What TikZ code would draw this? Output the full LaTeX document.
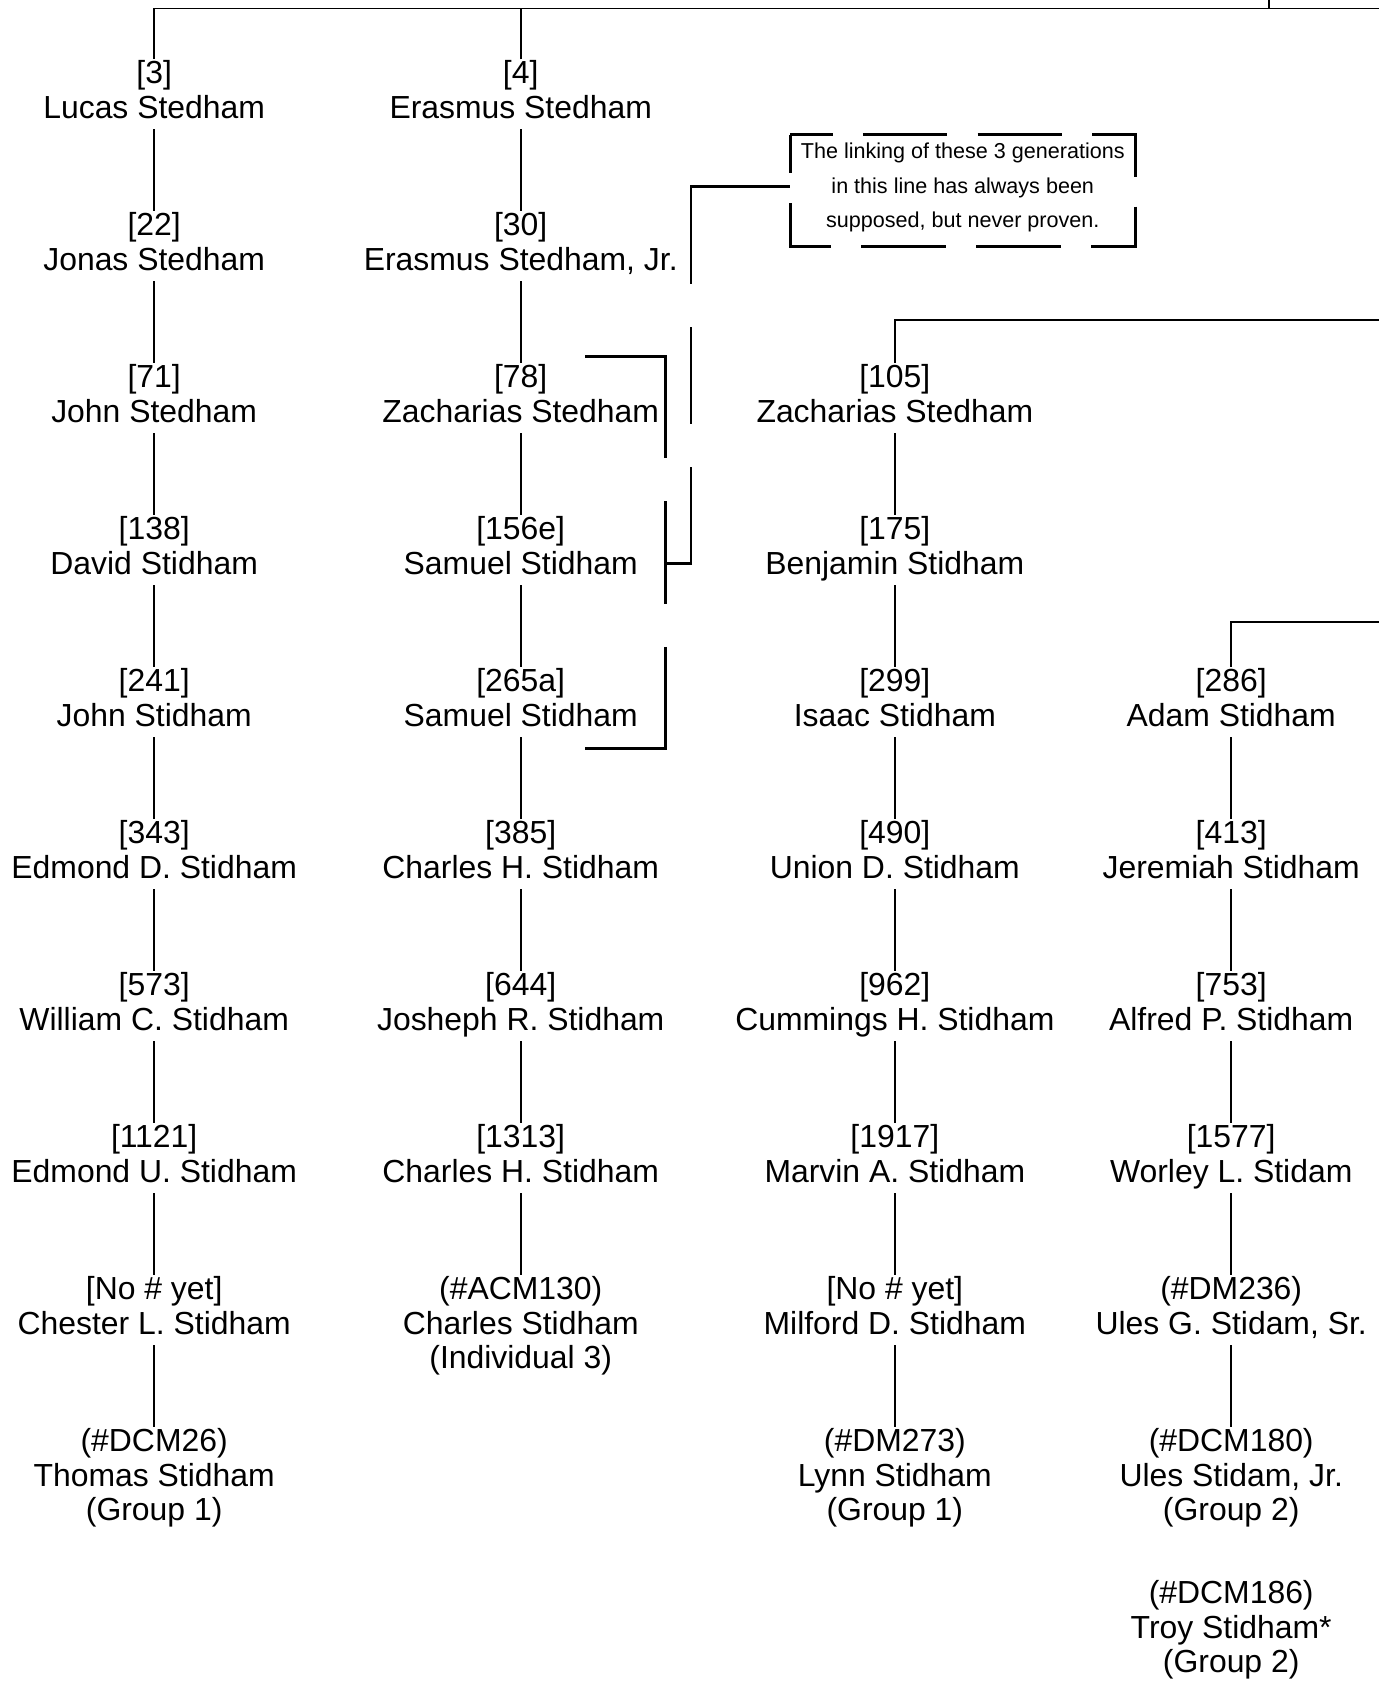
\documentclass[tikz,border=0pt]{standalone}
\usepackage{fontspec}
\setmainfont{Liberation Sans}
\begin{document}
\begin{tikzpicture}[x=0.5393pt,y=-0.5393pt,
  person/.style={anchor=north, align=center, inner sep=0pt, font=\fontsize{15.96pt}{17.26pt}\selectfont},
  notebox/.style={align=center, inner sep=0pt, minimum width=172.6pt, font=\fontsize{10.79pt}{17.26pt}\selectfont},
  tree/.style={line width=0.86pt},
  frame/.style={line width=1.5pt, dash pattern=on 42.33pt off 15.1pt, dash phase=21.14pt},
  brk/.style={line width=1.4pt}
]
\useasboundingbox (0,0) rectangle (1279,1568.5);

% column 1
\node[person] (a0) at (143,55)   {\strut[3]\\Lucas Stedham\strut};
\node[person] (a1) at (143,196)  {\strut[22]\\Jonas Stedham\strut};
\node[person] (a2) at (143,337)  {\strut[71]\\John Stedham\strut};
\node[person] (a3) at (143,478)  {\strut[138]\\David Stidham\strut};
\node[person] (a4) at (143,619)  {\strut[241]\\John Stidham\strut};
\node[person] (a5) at (143,760)  {\strut[343]\\Edmond D. Stidham\strut};
\node[person] (a6) at (143,901)  {\strut[573]\\William C. Stidham\strut};
\node[person] (a7) at (143,1042) {\strut[1121]\\Edmond U. Stidham\strut};
\node[person] (a8) at (143,1183) {\strut[No \# yet]\\Chester L. Stidham\strut};
\node[person] (a9) at (143,1324) {\strut(\#DCM26)\\Thomas Stidham\\(Group 1)\strut};

% column 2
\node[person] (b0) at (483,55)   {\strut[4]\\Erasmus Stedham\strut};
\node[person] (b1) at (483,196)  {\strut[30]\\Erasmus Stedham, Jr.\strut};
\node[person] (b2) at (483,337)  {\strut[78]\\Zacharias Stedham\strut};
\node[person] (b3) at (483,478)  {\strut[156e]\\Samuel Stidham\strut};
\node[person] (b4) at (483,619)  {\strut[265a]\\Samuel Stidham\strut};
\node[person] (b5) at (483,760)  {\strut[385]\\Charles H. Stidham\strut};
\node[person] (b6) at (483,901)  {\strut[644]\\Josheph R. Stidham\strut};
\node[person] (b7) at (483,1042) {\strut[1313]\\Charles H. Stidham\strut};
\node[person] (b8) at (483,1183) {\strut(\#ACM130)\\Charles Stidham\\(Individual 3)\strut};

% column 3
\node[person] (c2) at (830,337)  {\strut[105]\\Zacharias Stedham\strut};
\node[person] (c3) at (830,478)  {\strut[175]\\Benjamin Stidham\strut};
\node[person] (c4) at (830,619)  {\strut[299]\\Isaac Stidham\strut};
\node[person] (c5) at (830,760)  {\strut[490]\\Union D. Stidham\strut};
\node[person] (c6) at (830,901)  {\strut[962]\\Cummings H. Stidham\strut};
\node[person] (c7) at (830,1042) {\strut[1917]\\Marvin A. Stidham\strut};
\node[person] (c8) at (830,1183) {\strut[No \# yet]\\Milford D. Stidham\strut};
\node[person] (c9) at (830,1324) {\strut(\#DM273)\\Lynn Stidham\\(Group 1)\strut};

% column 4
\node[person] (d4) at (1142,619)  {\strut[286]\\Adam Stidham\strut};
\node[person] (d5) at (1142,760)  {\strut[413]\\Jeremiah Stidham\strut};
\node[person] (d6) at (1142,901)  {\strut[753]\\Alfred P. Stidham\strut};
\node[person] (d7) at (1142,1042) {\strut[1577]\\Worley L. Stidam\strut};
\node[person] (d8) at (1142,1183) {\strut(\#DM236)\\Ules G. Stidam, Sr.\strut};
\node[person] (d9) at (1142,1324) {\strut(\#DCM180)\\Ules Stidam, Jr.\\(Group 2)\strut};
\node[person] (d10) at (1142,1465) {\strut(\#DCM186)\\Troy Stidham*\\(Group 2)\strut};

% top lines
\coordinate (topR) at (1279,8);
\coordinate (topJ) at (1177,8);
\coordinate (topU) at (1177,0);
\draw[tree] (topR) -| (a0.north);
\draw[tree] (topJ) -- (topU);
\draw[tree] (b0.north) -- (b0.north |- topR);
\coordinate (r3) at (1279,297);
\draw[tree] (r3) -| (c2.north);
\coordinate (r4) at (1279,577);
\draw[tree] (r4) -| (d4.north);

% vertical connectors
\foreach \p/\q in {a0/a1,a1/a2,a2/a3,a3/a4,a4/a5,a5/a6,a6/a7,a7/a8,a8/a9,
                   b0/b1,b1/b2,b2/b3,b3/b4,b4/b5,b5/b6,b6/b7,b7/b8,
                   c2/c3,c3/c4,c4/c5,c5/c6,c6/c7,c7/c8,c8/c9,
                   d4/d5,d5/d6,d6/d7,d7/d8,d8/d9}
  \draw[tree] (\p.south) -- (\q.north);

% note
\node[notebox] (note) at (893,173) {\strut The linking of these 3 generations\\in this line has always been\\supposed, but never proven.\strut};
\draw[frame] (733,125) -- (1053,125) -- (1053,229) -- (733,229) -- cycle;

% brackets
\coordinate (k1) at (543,331);
\coordinate (k2) at (617,331);
\coordinate (k3) at (617,694);
\coordinate (k4) at (543,694);
\draw[brk, dash pattern=on 90.6pt off 21.57pt on 51.23pt off 21.57pt on 107.9pt] (k1) -- (k2) -- (k3) -- (k4);
\coordinate (m1) at (641,173);
\coordinate (m2) at (641,523);
\coordinate (m3) at (617,523);
\draw[brk, dash pattern=on 98.15pt off 21.57pt on 48.54pt off 21.57pt on 107.9pt] (note.west) -- (m1) -- (m2) -- (m3);
\end{tikzpicture}
\end{document}
